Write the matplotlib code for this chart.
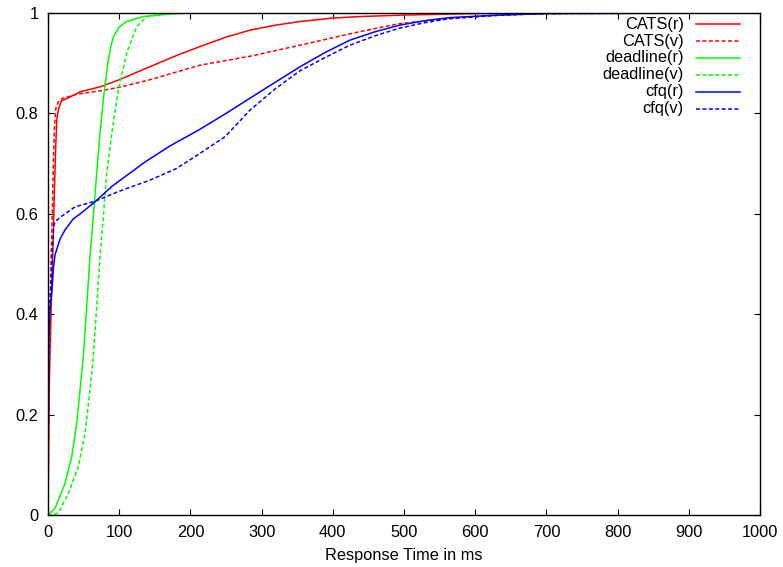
import matplotlib
matplotlib.use("Agg")
import matplotlib.pyplot as plt
import numpy as np

# ----------------- data -----------------
cats_r_ms = [0, 1, 2, 3.3, 5, 6.5, 8, 9.4, 11, 12.5, 15, 19, 30, 45, 73, 100,
             143, 180, 213, 250, 284, 320, 354, 400, 438, 500, 600, 700, 1000]
cats_r = [0, 0.15, 0.27, 0.35, 0.44, 0.51, 0.59, 0.667, 0.74, 0.79, 0.81, 0.825,
          0.832, 0.843, 0.853, 0.867, 0.893, 0.915, 0.933, 0.952, 0.966, 0.976,
          0.983, 0.99, 0.993, 0.996, 0.999, 1, 1]

cats_v_ms = [0, 1, 2, 3, 4.5, 6, 7.5, 9, 11, 14.5, 20, 40, 73, 100, 143, 213,
             284, 354, 438, 494, 565, 650, 750, 1000]
cats_v = [0, 0.2, 0.33, 0.43, 0.52, 0.6, 0.7, 0.77, 0.81, 0.823, 0.83, 0.838,
          0.845, 0.852, 0.867, 0.896, 0.914, 0.936, 0.963, 0.979, 0.989, 0.997,
          1, 1]

deadline_r_ms = [0, 9.8, 23.9, 33.3, 40.3, 45, 49.6, 54.3, 59, 63.6, 68.4, 73,
                 77.7, 80, 84, 88, 92, 100, 110, 134, 170, 200, 1000]
deadline_r = [0, 0.013, 0.063, 0.116, 0.183, 0.249, 0.315, 0.415, 0.515, 0.594,
              0.681, 0.76, 0.827, 0.855, 0.9, 0.932, 0.953, 0.972, 0.983, 0.993,
              0.998, 1, 1]

deadline_v_ms = [0, 10, 14.5, 28.5, 42.6, 52, 59, 63.6, 68.4, 73, 77.7, 82.4,
                 89.5, 98.8, 110.5, 124.6, 139, 170, 1000]
deadline_v = [0, 0.002, 0.004, 0.043, 0.096, 0.163, 0.249, 0.315, 0.415, 0.515,
              0.594, 0.681, 0.76, 0.847, 0.92, 0.973, 0.993, 1, 1]

cfq_r_ms = [0, 0.3, 1, 2, 3.5, 5.6, 7.5, 9.8, 17, 23.9, 35.6, 48, 66, 90, 115,
            136, 171, 213, 250, 300, 354, 390, 424, 460, 494, 530, 565, 635,
            700, 1000]
cfq_r = [0, 0.15, 0.35, 0.39, 0.42, 0.448, 0.49, 0.518, 0.55, 0.568, 0.59,
         0.603, 0.624, 0.655, 0.681, 0.703, 0.735, 0.768, 0.8, 0.845, 0.893,
         0.922, 0.946, 0.963, 0.976, 0.985, 0.991, 0.996, 0.999, 1]

cfq_v_ms = [0, 0.3, 1, 2, 3, 4.7, 6, 8, 9.8, 17, 38, 66, 100, 143, 180, 213,
            249, 284, 320, 354, 390, 424, 460, 494, 530, 565, 620, 700, 1000]
cfq_v = [0, 0.15, 0.35, 0.39, 0.43, 0.468, 0.52, 0.575, 0.584, 0.593, 0.614,
         0.625, 0.645, 0.667, 0.69, 0.72, 0.754, 0.807, 0.85, 0.885, 0.912,
         0.936, 0.955, 0.97, 0.981, 0.989, 0.995, 0.999, 1]

series = [
    ("CATS(r)", cats_r_ms, cats_r, "#ff0000", "-"),
    ("CATS(v)", cats_v_ms, cats_v, "#ff0000", "--"),
    ("deadline(r)", deadline_r_ms, deadline_r, "#00ff00", "-"),
    ("deadline(v)", deadline_v_ms, deadline_v, "#00ff00", "--"),
    ("cfq(r)", cfq_r_ms, cfq_r, "#0000ff", "-"),
    ("cfq(v)", cfq_v_ms, cfq_v, "#0000ff", "--"),
]

# ----------------- plot -----------------
plt.rcParams["font.family"] = ["Liberation Sans", "DejaVu Sans"]
plt.rcParams["font.size"] = 11.8

fig = plt.figure(figsize=(7.83, 5.67), dpi=100)
ax = fig.add_axes([0.0613, 0.0917, 0.9093, 0.8853])

for i, (name, xs, ys, col, ls) in enumerate(series):
    line, = ax.plot(xs, ys, color=col, linewidth=1.1)
    if ls == "--":
        line.set_dashes((2.6, 1.6))
    # gnuplot-style key: right-aligned text, sample line on the right
    ky = 0.978 - i * 0.0337
    ax.text(0.893, ky, name, transform=ax.transAxes, ha="right", va="center")
    sample, = ax.plot([0.910, 0.972], [ky, ky], color=col, linewidth=1.1,
                      transform=ax.transAxes)
    if ls == "--":
        sample.set_dashes((2.6, 1.6))

ax.set_xlim(0, 1000)
ax.set_ylim(0, 1)
ax.set_xticks(np.arange(0, 1001, 100))
ax.set_yticks([0, 0.2, 0.4, 0.6, 0.8, 1])
ax.set_yticklabels(["0", "0.2", "0.4", "0.6", "0.8", "1"])
ax.tick_params(direction="in", top=True, right=True, length=4, width=0.8, pad=7)
for sp in ax.spines.values():
    sp.set_linewidth(1.0)
ax.set_xlabel("Response Time in ms", labelpad=6)

fig.savefig("out.png", dpi=100)
